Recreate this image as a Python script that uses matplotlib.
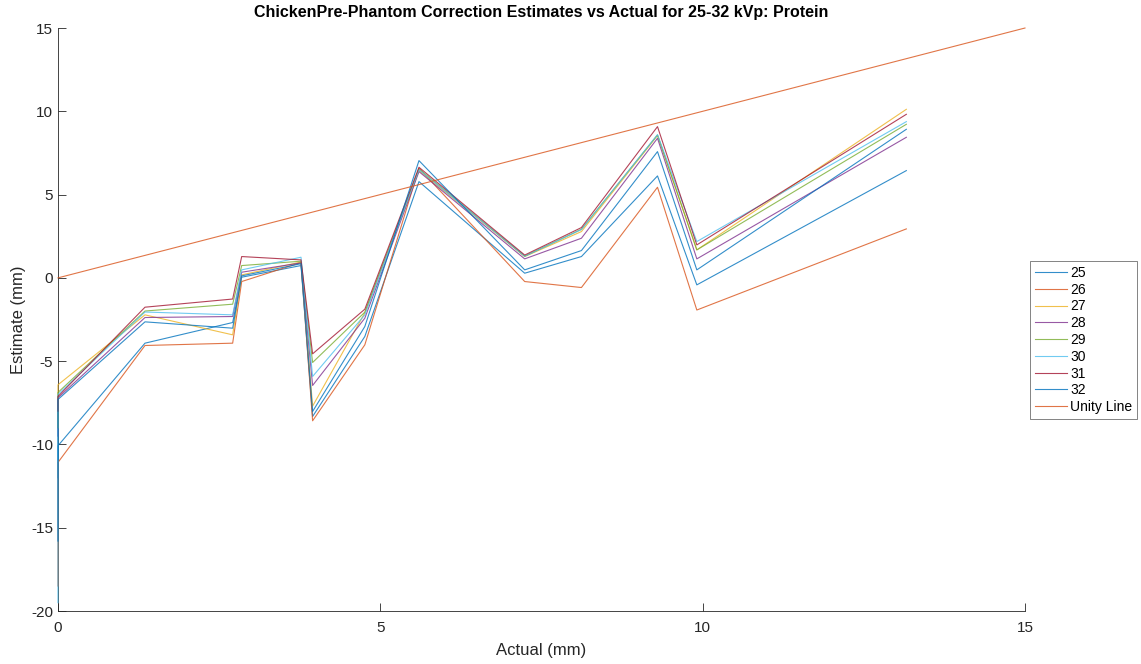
import numpy as np
import matplotlib
matplotlib.use("Agg")
import matplotlib.pyplot as plt

plt.rcParams['font.family'] = ['Liberation Sans', 'DejaVu Sans']
plt.rcParams['axes.unicode_minus'] = False

# actual thickness (mm); the first sample sits twice at 0
actual = [0, 0, 1.35, 2.71, 2.85, 3.77, 3.95, 4.76, 5.60, 7.24, 8.12, 9.30, 9.91, 13.16]

kvp = ['25', '26', '27', '28', '29', '30', '31', '32']
est_25 = [-12.0, -10.08, -3.92, -2.68, 0.04, 0.74, -8.32, -3.52, 5.78, 0.28, 1.28, 6.12, -0.42, 6.44]
est_26 = [-18.5, -11.08, -4.06, -3.92, -0.22, 0.92, -8.58, -4.02, 6.58, -0.22, -0.58, 5.44, -1.93, 2.94]
est_27 = [-9.0, -6.42, -2.22, -3.42, 0.18, 0.95, -7.70, -2.10, 6.45, 1.28, 2.78, 8.55, 1.68, 10.12]
est_28 = [-9.5, -7.20, -2.38, -2.32, 0.34, 0.90, -6.46, -2.42, 6.38, 1.14, 2.38, 8.38, 1.14, 8.44]
est_29 = [-9.0, -6.88, -1.99, -1.58, 0.74, 1.00, -5.08, -2.06, 6.54, 1.30, 2.92, 8.58, 1.68, 9.22]
est_30 = [-19.5, -7.00, -2.05, -2.22, 0.48, 1.24, -5.92, -2.22, 6.50, 1.30, 2.90, 8.60, 2.18, 9.38]
est_31 = [-8.0, -7.12, -1.76, -1.27, 1.28, 1.08, -4.56, -1.88, 6.64, 1.37, 3.02, 9.08, 1.98, 9.82]
est_32 = [-15.8, -7.30, -2.64, -3.02, 0.12, 0.85, -8.02, -2.92, 7.04, 0.48, 1.64, 7.58, 0.48, 8.92]
estimates = [est_25, est_26, est_27, est_28, est_29, est_30, est_31, est_32]

unity_x = [0, 15]
unity_y = [0, 15]

# matlab default colour order
colors = ['#0072BD', '#D95319', '#EDB120', '#7E2F8E', '#77AC30', '#4DBEEE', '#A2142F', '#0072BD']

fig = plt.figure(figsize=(11.41, 6.64), dpi=100)
ax = fig.add_axes([0.0508, 0.0798, 0.8475, 0.878])

for i in range(0, len(kvp)):
    ax.plot(actual, estimates[i], color=colors[i], lw=0.8, alpha=0.8,
            label=kvp[i], zorder=3, clip_on=False)
ax.plot(unity_x, unity_y, color='#D95319', lw=0.8, alpha=0.8, label='Unity Line',
        zorder=3, clip_on=False)

ax.set_xlim(0, 15)
ax.set_ylim(-20, 15)
ax.set_xticks([0, 5, 10, 15])
ax.set_yticks([-20, -15, -10, -5, 0, 5, 10, 15])

for s in ['top', 'right']:
    ax.spines[s].set_visible(False)
for s in ['left', 'bottom']:
    ax.spines[s].set_color('#262626')
    ax.spines[s].set_linewidth(0.6)
ax.tick_params(direction='in', length=6, width=0.6, colors='#262626', labelsize=11)
ax.tick_params(axis='x', pad=7)

ax.set_xlabel('Actual (mm)', fontsize=12, color='#262626', labelpad=6)
ax.set_ylabel('Estimate (mm)', fontsize=12, color='#262626')
ax.set_title('ChickenPre-Phantom Correction Estimates vs Actual for 25-32 kVp: Protein',
             fontsize=11.5, fontweight='bold', color='black', pad=8)

leg = ax.legend(loc='center left', bbox_to_anchor=(1030 / 1141, 0.488),
                bbox_transform=fig.transFigure, fontsize=10, frameon=True,
                fancybox=False, handlelength=2.3, handletextpad=0.25,
                labelspacing=0.2, borderpad=0.35, borderaxespad=0)
leg.get_frame().set_edgecolor('#262626')
leg.get_frame().set_linewidth(0.5)

plt.savefig('out.png', dpi=100)
